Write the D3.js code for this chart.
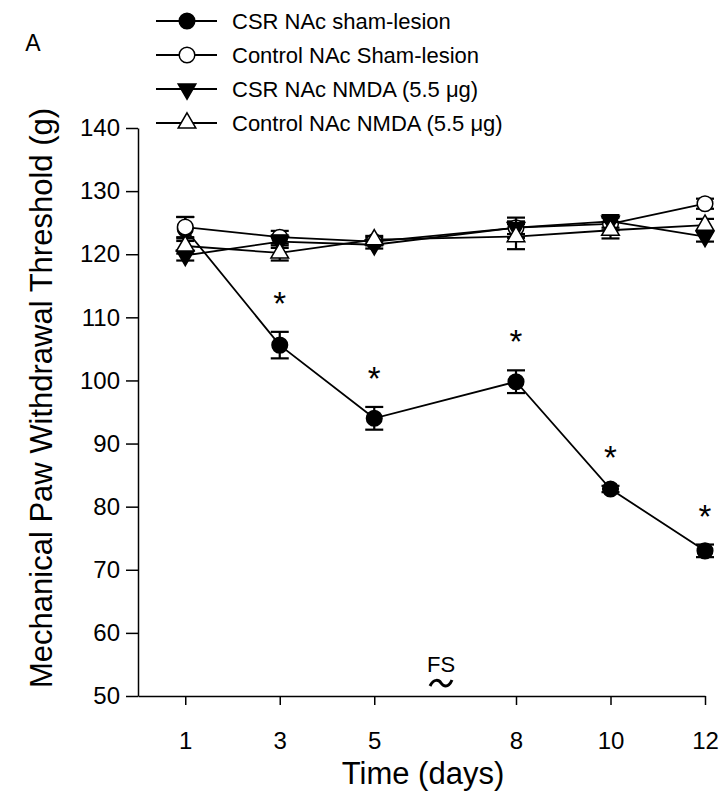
<!DOCTYPE html>
<html>
<head>
<meta charset="utf-8">
<script src="https://cdn.jsdelivr.net/npm/d3@7"></script>
<style>
  body { margin: 0; background: #fff; }
  text { font-family: Arial, "Liberation Sans", sans-serif; fill: #000; }
</style>
</head>
<body>
<div id="chart"></div>
<script>
// x values (days)
var days = [1, 3, 5, 8, 10, 12];

// series means and SEM
var csrShamMean = [124.0, 105.6, 94.0, 99.8, 82.8, 73.0];
var csrShamErr = [1.9, 2.1, 1.8, 1.8, 0.5, 1.0];
var ctlShamMean = [124.3, 122.7, 122.0, 124.2, 124.8, 128.0];
var ctlShamErr = [1.6, 1.0, 0.6, 1.0, 1.0, 0.8];
var csrNmdaMean = [119.8, 122.0, 121.5, 124.2, 125.2, 122.8];
var csrNmdaErr = [0.8, 1.0, 0.6, 1.6, 1.0, 0.8];
var ctlNmdaMean = [121.3, 120.2, 122.3, 122.8, 123.8, 124.6];
var ctlNmdaErr = [1.2, 1.2, 0.6, 2.0, 1.3, 1.0];

// days with significant difference
var starDays = [3, 5, 8, 10, 12];

var legendLabels = [
  "CSR NAc sham-lesion",
  "Control NAc Sham-lesion",
  "CSR NAc NMDA (5.5 \u03bcg)",
  "Control NAc NMDA (5.5 \u03bcg)"
];

var yTicks = [50, 60, 70, 80, 90, 100, 110, 120, 130, 140];

var width = 723;
var height = 798;

var svg = d3.select("#chart")
  .append("svg")
  .attr("width", width)
  .attr("height", height)

var x = d3.scaleLinear().domain([0, 12]).range([138, 705])
var y = d3.scaleLinear().domain([50, 140]).range([696, 128])

// axes
var yAxis = svg.append("g")
  .attr("transform", "translate(138,0)")
  .call(d3.axisLeft(y).tickValues(yTicks).tickSize(12).tickSizeOuter(0).tickPadding(6))
yAxis.selectAll("text").attr("font-size", 24).style("font-family", "Arial, 'Liberation Sans', sans-serif")

var xAxis = svg.append("g")
  .attr("transform", "translate(0,696)")
  .call(d3.axisBottom(x).tickValues(days).tickSize(9).tickSizeOuter(0).tickPadding(27))
xAxis.selectAll("text").attr("font-size", 24).style("font-family", "Arial, 'Liberation Sans', sans-serif")

svg.selectAll(".domain, .tick line").attr("stroke", "#000").attr("stroke-width", 1.5)

// axis titles
svg.append("text")
  .attr("transform", "translate(52,398) rotate(-90)")
  .attr("text-anchor", "middle")
  .attr("font-size", 31)
  .text("Mechanical Paw Withdrawal Threshold (g)")

svg.append("text")
  .attr("x", 423)
  .attr("y", 784)
  .attr("text-anchor", "middle")
  .attr("font-size", 31)
  .text("Time (days)")

svg.append("text")
  .attr("x", 33)
  .attr("y", 51)
  .attr("text-anchor", "middle")
  .attr("font-size", 23)
  .text("A")

// FS label and the break mark under it
svg.append("text")
  .attr("x", 441)
  .attr("y", 672)
  .attr("text-anchor", "middle")
  .attr("font-size", 22)
  .text("FS")

svg.append("path")
  .attr("d", "M430,686 C434,678 439,680 441,683 C443,686 448,689 452,680")
  .attr("fill", "none")
  .attr("stroke", "#000")
  .attr("stroke-width", 3)

var series = [
  { mean: csrShamMean, err: csrShamErr, shape: "circle", fill: "#000" },
  { mean: ctlShamMean, err: ctlShamErr, shape: "circle", fill: "#fff" },
  { mean: csrNmdaMean, err: csrNmdaErr, shape: "down", fill: "#000" },
  { mean: ctlNmdaMean, err: ctlNmdaErr, shape: "up", fill: "#fff" }
];

var line = d3.line()
  .x(function (d) { return x(d.day) })
  .y(function (d) { return y(d.v) })

function drawMarker(g, shape, fill) {
  if (shape === "circle") {
    g.append("circle").attr("r", 7.8)
      .attr("fill", fill).attr("stroke", "#000").attr("stroke-width", 1.5)
  } else {
    g.append("path")
      .attr("d", d3.symbol().type(d3.symbolTriangle).size(135)())
      .attr("transform", shape === "down" ? "rotate(180)" : null)
      .attr("fill", fill).attr("stroke", "#000").attr("stroke-width", 1.5)
  }
}

// lines first
series.forEach(function (s) {
  var pts = days.map(function (d, i) { return { day: d, v: s.mean[i] } })
  svg.append("path")
    .datum(pts)
    .attr("d", line)
    .attr("fill", "none")
    .attr("stroke", "#000")
    .attr("stroke-width", 1.8)
})

// error bars and markers
series.forEach(function (s) {
  days.forEach(function (d, i) {
    var cx = x(d)
    var top = y(s.mean[i] + s.err[i])
    var bot = y(s.mean[i] - s.err[i])
    var eb = svg.append("g").attr("stroke", "#000").attr("stroke-width", 2.2)
    eb.append("line").attr("x1", cx).attr("x2", cx).attr("y1", top).attr("y2", bot)
    eb.append("line").attr("x1", cx - 9).attr("x2", cx + 9).attr("y1", top).attr("y2", top)
    eb.append("line").attr("x1", cx - 9).attr("x2", cx + 9).attr("y1", bot).attr("y2", bot)
    var g = svg.append("g").attr("transform", "translate(" + cx + "," + y(s.mean[i]) + ")")
    drawMarker(g, s.shape, s.fill)
  })
})

// significance stars
starDays.forEach(function (d) {
  var i = days.indexOf(d)
  svg.append("text")
    .attr("x", x(d))
    .attr("y", y(csrShamMean[i] + csrShamErr[i]) - 36 + 19)
    .attr("text-anchor", "middle")
    .attr("font-size", 33)
    .text("*")
})

// legend
var legend = svg.append("g")
legendLabels.forEach(function (lab, i) {
  var ly = 21 + i * 34
  var s = series[i]
  legend.append("line")
    .attr("x1", 156).attr("x2", 217).attr("y1", ly).attr("y2", ly)
    .attr("stroke", "#000").attr("stroke-width", 1.8)
  var g = legend.append("g").attr("transform", "translate(187," + ly + ")")
  drawMarker(g, s.shape, s.fill)
  legend.append("text")
    .attr("x", 232)
    .attr("y", ly + 8)
    .attr("font-size", 22)
    .text(lab)
})
</script>
</body>
</html>
